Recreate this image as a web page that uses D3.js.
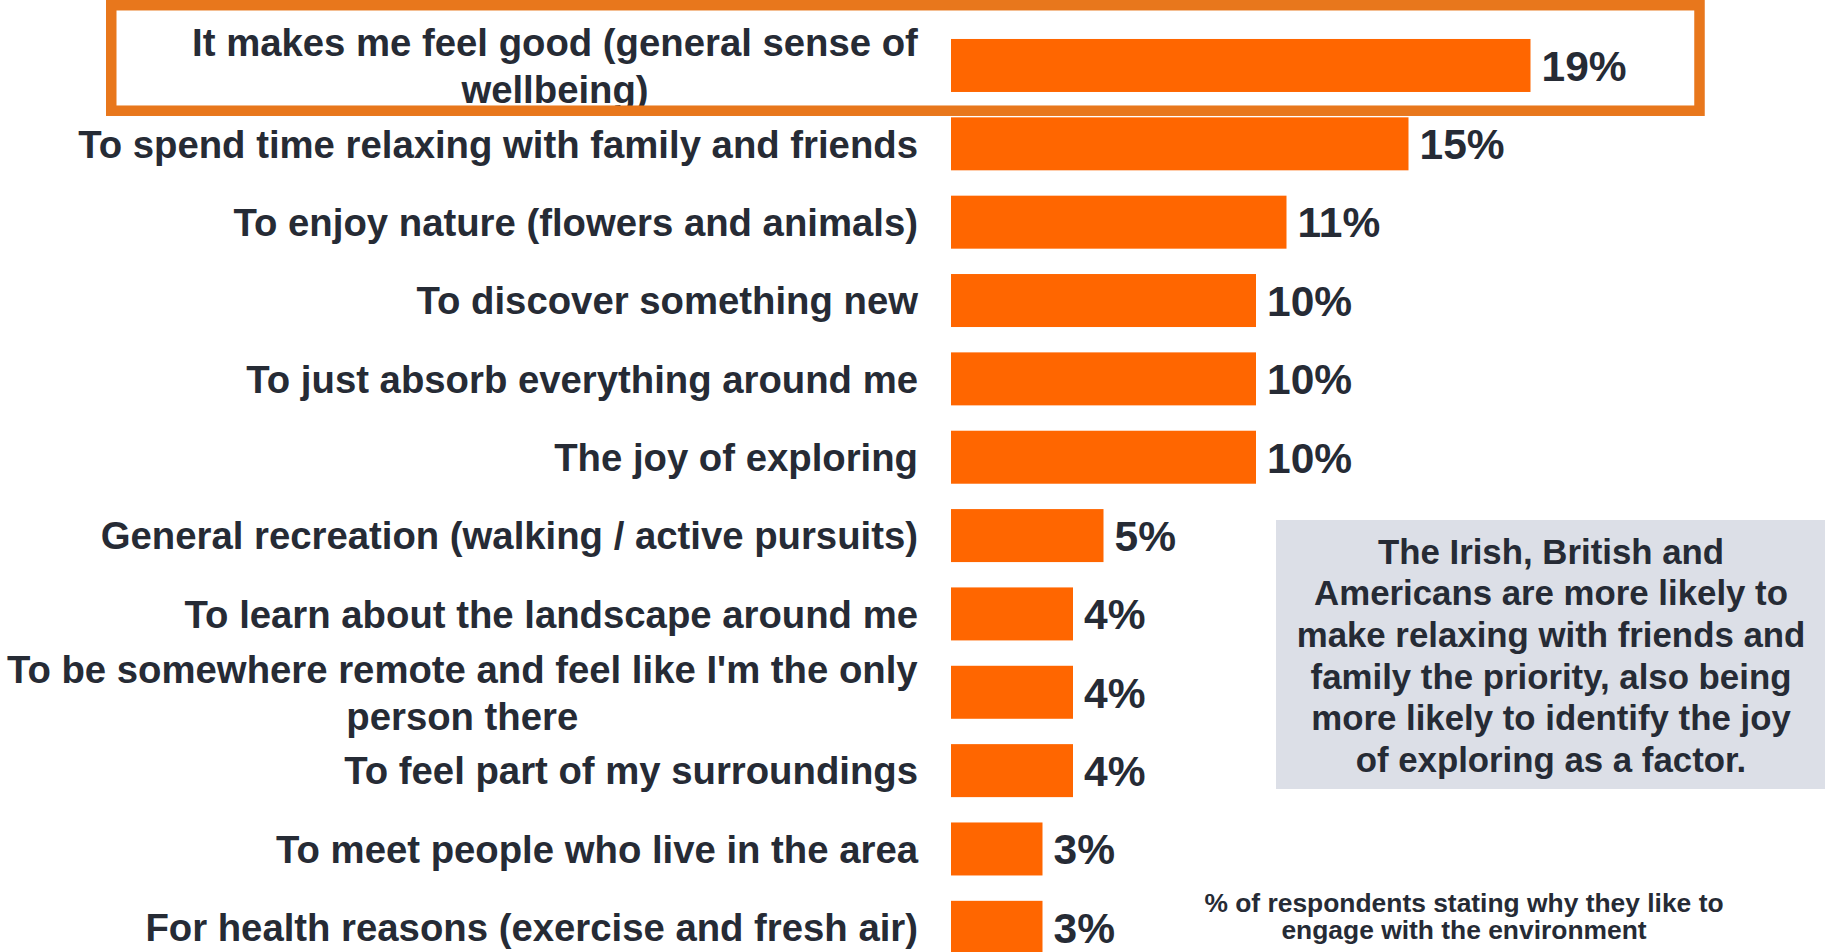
<!DOCTYPE html>
<html>
<head>
<meta charset="utf-8">
<script src="https://cdn.jsdelivr.net/npm/d3@7"></script>
<style>
  html, body { margin: 0; padding: 0; background: #ffffff; overflow: hidden; }
  svg { display: block; font-family: "Liberation Sans", Arial, Helvetica, sans-serif; font-weight: bold; }
</style>
</head>
<body>
<svg id="chart" width="1825" height="952"></svg>
<script>
// Reasons for engaging with the environment (share of respondents)
const categories = [
  "It makes me feel good (general sense of\nwellbeing)",
  "To spend time relaxing with family and friends",
  "To enjoy nature (flowers and animals)",
  "To discover something new",
  "To just absorb everything around me",
  "The joy of exploring",
  "General recreation (walking / active pursuits)",
  "To learn about the landscape around me",
  "To be somewhere remote and feel like I'm the only\nperson there",
  "To feel part of my surroundings",
  "To meet people who live in the area",
  "For health reasons (exercise and fresh air)"
];
const values = [19, 15, 11, 10, 10, 10, 5, 4, 4, 4, 3, 3];

const noteLines = [
  "The Irish, British and",
  "Americans are more likely to",
  "make relaxing with friends and",
  "family the priority, also being",
  "more likely to identify the joy",
  "of exploring as a factor."
];
const footnoteLines = [
  "% of respondents stating why they like to",
  "engage with the environment"
];

const TEXT = "#262b35";
const BAR = "#ff6600";
const HIGHLIGHT = "#e8771c";
const NOTE_BG = "#dcdfe7";

const svg = d3.select("#chart");

// Scales
const x = d3.scaleLinear().domain([0, 20]).range([951, 1561]);
const y = d3.scaleBand()
  .domain(categories)
  .range([26.3, 966.5])
  .paddingInner(0.3236)
  .paddingOuter(0.1618);

const rows = categories.map((c, i) => ({ cat: c, value: values[i] }));

// Bars
svg.append("g").selectAll("rect")
  .data(rows)
  .join("rect")
  .attr("x", x(0))
  .attr("y", d => y(d.cat))
  .attr("width", d => x(d.value) - x(0))
  .attr("height", y.bandwidth())
  .attr("fill", BAR);

// Value labels
svg.append("g").selectAll("text")
  .data(rows)
  .join("text")
  .attr("x", d => x(d.value) + 11)
  .attr("y", d => y(d.cat) + y.bandwidth() / 2)
  .attr("dy", "0.36em")
  .attr("font-size", 42.5)
  .attr("fill", TEXT)
  .text(d => d.value + "%");

// Category labels: right-aligned block, wrapped lines centred within it
const labelRight = 918;
const lineGap = 47;
const labels = svg.append("g").attr("font-size", 38.3).attr("fill", TEXT);
rows.forEach(d => {
  const lines = d.cat.split("\n");
  const cy = y(d.cat) + y.bandwidth() / 2;
  const t = labels.append("text")
    .attr("text-anchor", lines.length > 1 ? "middle" : "end")
    .attr("y", cy);
  lines.forEach((ln, j) => {
    t.append("tspan")
      .attr("x", labelRight)
      .attr("y", cy + (j - (lines.length - 1) / 2) * lineGap)
      .attr("dy", "0.36em")
      .text(ln);
  });
  if (lines.length > 1) {
    // centre the lines within the width of the longest one, keeping the right edge aligned
    const w = t.node().getBBox().width;
    t.selectAll("tspan").attr("x", labelRight - w / 2);
  }
});

// Highlight frame around the top reason
const firstBandY = y(categories[0]);
svg.append("rect")
  .attr("x", 111.25)
  .attr("y", firstBandY - 33.75)
  .attr("width", 1588.25)
  .attr("height", 105.5)
  .attr("fill", "none")
  .attr("stroke", HIGHLIGHT)
  .attr("stroke-width", 10.5);

// Note box
const note = svg.append("g");
note.append("rect")
  .attr("x", 1276)
  .attr("y", 520)
  .attr("width", 1825 - 1276)
  .attr("height", 269)
  .attr("fill", NOTE_BG);
note.append("g").attr("font-size", 34.8).attr("fill", TEXT).attr("text-anchor", "middle")
  .selectAll("text")
  .data(noteLines)
  .join("text")
  .attr("x", 1551)
  .attr("y", (d, i) => 563.5 + i * 41.7)
  .text(d => d);

// Footnote
svg.append("g").attr("font-size", 26.4).attr("fill", TEXT).attr("text-anchor", "middle")
  .selectAll("text")
  .data(footnoteLines)
  .join("text")
  .attr("x", 1464)
  .attr("y", (d, i) => 912 + i * 27)
  .text(d => d);
</script>
</body>
</html>
